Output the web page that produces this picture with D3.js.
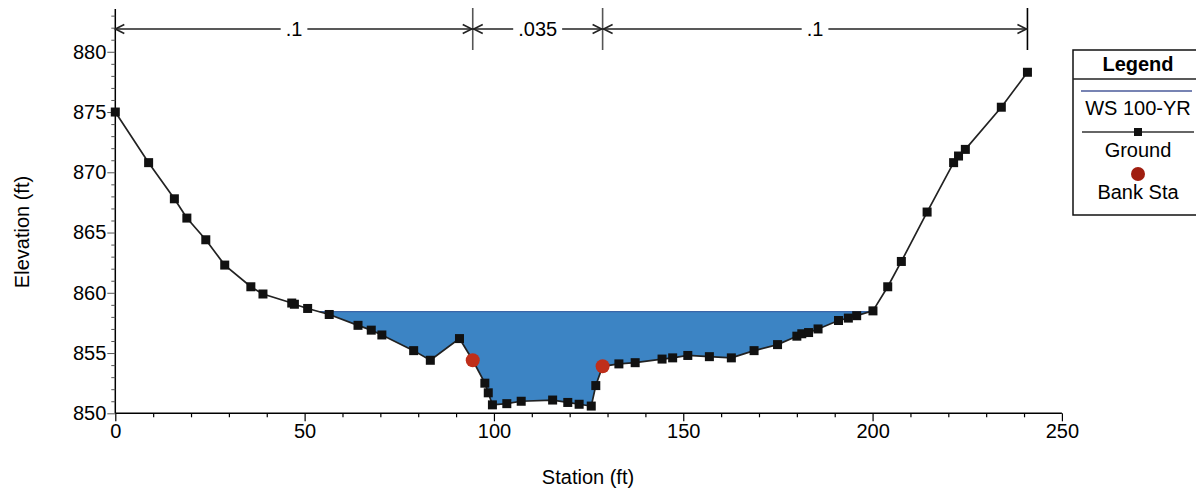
<!DOCTYPE html>
<html><head><meta charset="utf-8">
<script src="https://cdn.jsdelivr.net/npm/d3@7"></script>
<style>body{margin:0;background:#fff}svg{display:block;font-family:"Liberation Sans",Arial,sans-serif}</style>
</head><body>
<svg id="c" width="1196" height="489"></svg>
<script>
// ---- data ----
const stations = [0,8.8,15.6,18.9,23.9,28.9,35.8,39.0,46.6,47.3,50.8,56.5,64.1,67.6,70.4,78.8,83.2,90.9,94.4,97.6,98.5,99.6,103.4,107.2,115.5,119.5,122.5,125.7,126.9,128.7,133.0,137.3,144.4,147.2,151.2,156.9,162.7,168.7,174.9,180.0,181.3,183.1,185.6,191.0,193.6,195.8,200.1,204.0,207.6,214.4,221.4,222.7,224.5,234.0,240.9];
const elevations = [875.0,870.8,867.8,866.2,864.4,862.3,860.5,859.9,859.15,859.05,858.7,858.2,857.3,856.9,856.5,855.2,854.4,856.2,854.4,852.5,851.7,850.7,850.8,851.0,851.1,850.9,850.75,850.6,852.3,853.9,854.1,854.2,854.5,854.6,854.8,854.7,854.6,855.2,855.7,856.4,856.6,856.7,857.0,857.7,857.9,858.1,858.5,860.5,862.6,866.7,870.8,871.35,871.9,875.4,878.3];
const bankStations = [94.4,128.7];
const bankElevations = [854.4,853.9];
const wsElevation = 858.43;
const nBreaks = [0,94.4,128.7,240.9];
const nValues = [".1",".035",".1"];
const xTicks = [0,50,100,150,200,250];
const yTicks = [850,855,860,865,870,875,880];
const legendItems = ["WS 100-YR","Ground","Bank Sta"];

// ---- layout ----
const svg = d3.select("#c");
const x = d3.scaleLinear().domain([0,250]).range([115.3,1061.9]);
const y = d3.scaleLinear().domain([850,883.55]).range([413.3,9.0]);
const font = "\"Liberation Sans\",Arial,sans-serif";
const FS = 20;

// water fill polygon
const pts = stations.map((s,i)=>[s,elevations[i]]);
let poly = [];
for (let i=0;i<pts.length-1;i++){
  const [s0,e0]=pts[i],[s1,e1]=pts[i+1];
  const in0 = e0<wsElevation, in1 = e1<wsElevation;
  if (in0) poly.push([s0,e0]);
  if (in0!==in1){
    const t=(wsElevation-e0)/(e1-e0);
    poly.push([s0+t*(s1-s0),wsElevation]);
  }
}
const line = d3.line().x(d=>x(d[0])).y(d=>y(d[1]));
svg.append("path").attr("d",line(poly)+"Z").attr("fill","#3c84c4").attr("stroke","none");
svg.append("line").attr("x1",x(poly[0][0])).attr("x2",x(poly[poly.length-1][0]))
  .attr("y1",y(wsElevation)).attr("y2",y(wsElevation)).attr("stroke","#3a66a8").attr("stroke-width",1.2);

// axes
const xAxis = d3.axisBottom(x).tickValues(d3.range(0,251,10)).tickSize(5)
  .tickFormat(d=>xTicks.includes(d)?d:"");
const gx = svg.append("g").attr("transform",`translate(0,${y(850)})`).call(xAxis);
gx.select(".domain").attr("stroke","#000").attr("stroke-width",1.5).attr("d",`M${x(0)},0H${x(250)}`);
gx.selectAll(".tick line").attr("stroke","#000").attr("stroke-width",1.2)
  .attr("y2",d=>xTicks.includes(d)?8:4);
gx.selectAll(".tick text").attr("font-size",FS).attr("font-family",font).attr("fill","#000").attr("y",9).attr("dy","0.78em");

const yAxis = d3.axisLeft(y).tickValues(d3.range(850,884,1)).tickSize(4)
  .tickFormat(d=>yTicks.includes(d)?d:"");
const gy = svg.append("g").attr("transform",`translate(${x(0)},0)`).call(yAxis);
gy.select(".domain").attr("stroke","#000").attr("stroke-width",1.5).attr("d",`M0,${y(850)}V${y(883.55)}`);
gy.selectAll(".tick line").attr("stroke","#555").attr("stroke-width",1)
  .attr("x2",d=>yTicks.includes(d)?-8:-4);
gy.selectAll(".tick text").attr("font-size",FS).attr("font-family",font).attr("fill","#000").attr("x",-9);

svg.append("text").attr("x",588).attr("y",484).attr("text-anchor","middle")
  .attr("font-size",FS).attr("fill","#000").text("Station (ft)");
svg.append("text").attr("transform",`translate(29,232) rotate(-90)`).attr("text-anchor","middle")
  .attr("font-size",FS).attr("fill","#000").text("Elevation (ft)");

// ground line + markers
svg.append("path").attr("d",line(pts)).attr("fill","none").attr("stroke","#222").attr("stroke-width",1.7);
svg.selectAll("rect.g").data(pts).join("rect").attr("class","g")
  .attr("x",d=>x(d[0])-4.5).attr("y",d=>y(d[1])-4.5).attr("width",9).attr("height",9).attr("fill","#111");

// bank stations
svg.selectAll("circle.b").data(bankStations).join("circle").attr("class","b")
  .attr("cx",d=>x(d)).attr("cy",(d,i)=>y(bankElevations[i])).attr("r",7).attr("fill","#bf2e1a");

// manning's n bar
const ny = 29;
const ng = svg.append("g");
function chevron(px,dir){ // dir -1 points left, +1 points right
  ng.append("path").attr("d",`M${px-dir*9},${ny-4.5}L${px},${ny}L${px-dir*9},${ny+4.5}`)
    .attr("fill","none").attr("stroke","#222").attr("stroke-width",1.6);
}
nBreaks.forEach((b,i)=>{
  if (i>0) ng.append("line").attr("x1",x(b)).attr("x2",x(b)).attr("y1",8).attr("y2",50)
    .attr("stroke",i===nBreaks.length-1?"#000":"#555").attr("stroke-width",1.6);
});
nValues.forEach((v,i)=>{
  const a=x(nBreaks[i]), b=x(nBreaks[i+1]);
  ng.append("line").attr("x1",a).attr("x2",b).attr("y1",ny).attr("y2",ny).attr("stroke","#222").attr("stroke-width",1.3);
  chevron(a+(i===0?0:1),-1);
  chevron(b-1,1);
  const cx=(a+b)/2;
  const bg=ng.append("rect").attr("fill","#fff");
  const t=ng.append("text").attr("x",cx).attr("y",ny+7).attr("text-anchor","middle")
    .attr("font-size",FS).attr("fill","#000").text(v);
  const bb=t.node().getBBox();
  bg.attr("x",bb.x-5).attr("y",ny-3).attr("width",bb.width+10).attr("height",6);
});

// legend
const lg = svg.append("g");
const lx = 1138;
lg.append("rect").attr("x",1073).attr("y",50).attr("width",130).attr("height",165).attr("fill","#fff").attr("stroke","#111").attr("stroke-width",1.5);
lg.append("line").attr("x1",1073).attr("x2",1203).attr("y1",79).attr("y2",79).attr("stroke","#222").attr("stroke-width",1.3);
lg.append("text").attr("x",lx).attr("y",71).attr("text-anchor","middle").attr("font-size",FS).attr("font-weight","bold").text("Legend");
lg.append("line").attr("x1",1081).attr("x2",1192).attr("y1",91).attr("y2",91).attr("stroke","#4a5a9a").attr("stroke-width",1.5);
lg.append("text").attr("x",lx).attr("y",115).attr("text-anchor","middle").attr("font-size",FS).text(legendItems[0]);
lg.append("line").attr("x1",1082).attr("x2",1194).attr("y1",132).attr("y2",132).attr("stroke","#333").attr("stroke-width",1.3);
lg.append("rect").attr("x",lx-4).attr("y",128).attr("width",8).attr("height",8).attr("fill","#111");
lg.append("text").attr("x",lx).attr("y",157).attr("text-anchor","middle").attr("font-size",FS).text(legendItems[1]);
lg.append("circle").attr("cx",lx).attr("cy",174).attr("r",7).attr("fill","#a01e10");
lg.append("text").attr("x",lx).attr("y",199).attr("text-anchor","middle").attr("font-size",FS).text(legendItems[2]);
</script>
</body></html>
